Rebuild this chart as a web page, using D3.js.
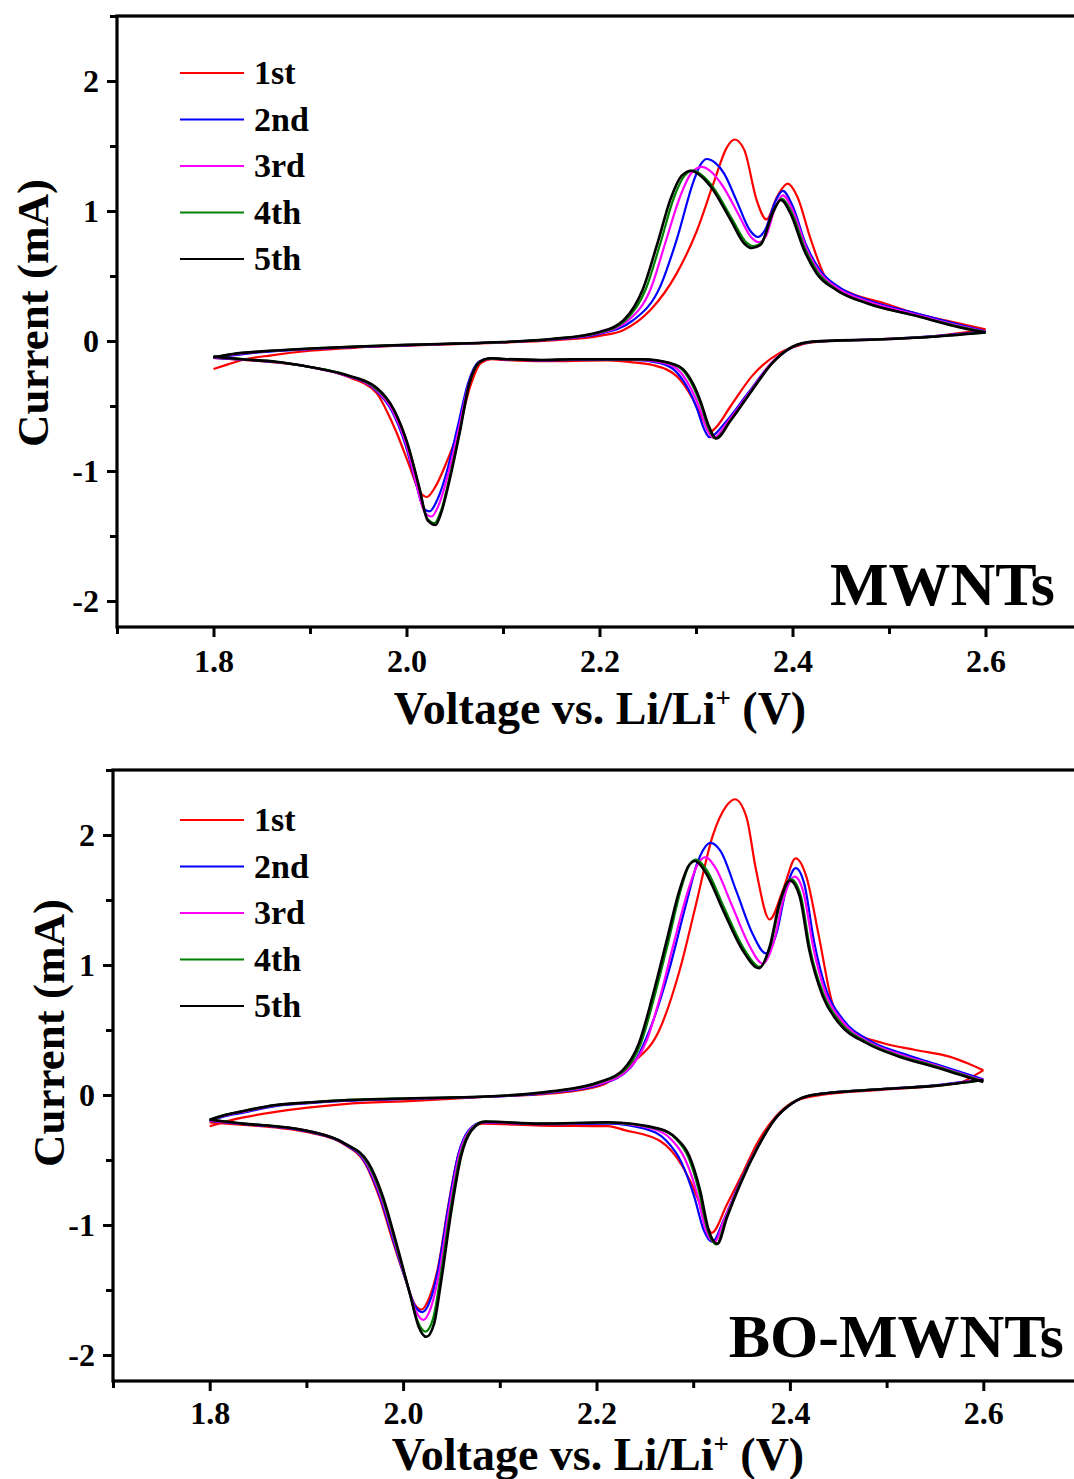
<!DOCTYPE html>
<html>
<head>
<meta charset="utf-8">
<script src="https://cdn.jsdelivr.net/npm/d3@7"></script>
<style>
  body { margin: 0; background: #fff; }
  text { font-family: "Liberation Serif", "Times New Roman", serif; font-weight: bold; fill: #000; }
</style>
</head>
<body>
<div id="chart"></div>
<script>
// ---- shared labels / ticks ----
const cycles = ['1st', '2nd', '3rd', '4th', '5th'];
const colors = ['#ff0000', '#0000ff', '#ff00ff', '#008000', '#000000'];
const xTicks = [1.8, 2.0, 2.2, 2.4, 2.6];
const xMinor = [1.7, 1.9, 2.1, 2.3, 2.5, 2.7];
const yTicks = [-2, -1, 0, 1, 2];
const yMinor = [-1.5, -0.5, 0.5, 1.5, 2.5];

// ---- MWNTs, anodic sweep (voltage up) [V, mA] ----
const mwAn1 = [[1.80,-0.215],[1.815,-0.18],[1.83,-0.146],[1.86,-0.11],[1.90,-0.075],[1.95,-0.05],[2.00,-0.035],[2.05,-0.024],[2.10,-0.012],[2.15,0.005],[2.20,0.04],[2.225,0.085],[2.253,0.24],[2.280,0.52],[2.301,0.85],[2.318,1.21],[2.332,1.49],[2.340,1.55],[2.350,1.47],[2.363,1.08],[2.373,0.935],[2.384,1.11],[2.395,1.21],[2.405,1.11],[2.419,0.78],[2.436,0.47],[2.460,0.37],[2.495,0.29],[2.529,0.21],[2.564,0.15],[2.60,0.09]];
const mwAn2 = [[1.80,-0.13],[1.82,-0.11],[1.85,-0.085],[1.90,-0.062],[1.95,-0.046],[2.00,-0.033],[2.05,-0.021],[2.10,-0.009],[2.15,0.01],[2.20,0.055],[2.235,0.16],[2.263,0.42],[2.280,0.78],[2.298,1.24],[2.305,1.36],[2.311,1.40],[2.320,1.37],[2.329,1.29],[2.342,1.08],[2.356,0.85],[2.364,0.80],[2.372,0.86],[2.382,1.07],[2.390,1.155],[2.400,1.04],[2.414,0.74],[2.428,0.55],[2.449,0.41],[2.48,0.31],[2.53,0.21],[2.565,0.14],[2.60,0.075]];
const mwAn3 = [[1.80,-0.13],[1.82,-0.105],[1.85,-0.082],[1.90,-0.06],[1.95,-0.044],[2.00,-0.032],[2.05,-0.02],[2.10,-0.008],[2.15,0.012],[2.20,0.06],[2.23,0.16],[2.253,0.40],[2.268,0.75],[2.283,1.10],[2.295,1.29],[2.306,1.34],[2.316,1.30],[2.327,1.20],[2.345,0.96],[2.357,0.80],[2.365,0.76],[2.372,0.80],[2.382,1.02],[2.390,1.12],[2.400,1.01],[2.414,0.72],[2.427,0.54],[2.448,0.40],[2.48,0.30],[2.53,0.20],[2.565,0.13],[2.60,0.07]];
const mwAn4 = [[1.80,-0.125],[1.82,-0.10],[1.85,-0.08],[1.90,-0.058],[1.95,-0.042],[2.00,-0.03],[2.05,-0.02],[2.10,-0.008],[2.15,0.015],[2.20,0.065],[2.227,0.16],[2.248,0.40],[2.263,0.75],[2.277,1.10],[2.288,1.27],[2.297,1.31],[2.307,1.27],[2.318,1.18],[2.338,0.93],[2.352,0.76],[2.360,0.73],[2.368,0.76],[2.380,0.99],[2.389,1.095],[2.399,0.99],[2.413,0.71],[2.426,0.53],[2.447,0.39],[2.478,0.29],[2.53,0.19],[2.565,0.125],[2.60,0.068]];
const mwAn5 = [[1.80,-0.125],[1.82,-0.10],[1.85,-0.08],[1.90,-0.058],[1.95,-0.042],[2.00,-0.03],[2.05,-0.02],[2.10,-0.008],[2.15,0.015],[2.20,0.07],[2.225,0.16],[2.245,0.40],[2.26,0.75],[2.274,1.10],[2.285,1.27],[2.295,1.31],[2.305,1.27],[2.315,1.19],[2.336,0.93],[2.350,0.75],[2.358,0.715],[2.367,0.74],[2.379,0.98],[2.388,1.085],[2.398,0.98],[2.412,0.70],[2.425,0.52],[2.446,0.39],[2.477,0.29],[2.53,0.19],[2.565,0.12],[2.60,0.065]];

// ---- MWNTs, cathodic sweep (stored by rising voltage) ----
const mwCa1 = [[1.80,-0.13],[1.83,-0.145],[1.865,-0.165],[1.90,-0.20],[1.937,-0.27],[1.969,-0.40],[1.979,-0.53],[1.990,-0.71],[2.003,-0.96],[2.013,-1.15],[2.021,-1.20],[2.030,-1.12],[2.040,-0.96],[2.055,-0.66],[2.066,-0.35],[2.077,-0.17],[2.088,-0.14],[2.10,-0.145],[2.14,-0.155],[2.209,-0.15],[2.235,-0.165],[2.255,-0.185],[2.280,-0.27],[2.297,-0.45],[2.308,-0.62],[2.314,-0.70],[2.320,-0.67],[2.336,-0.50],[2.358,-0.27],[2.386,-0.095],[2.40,-0.05],[2.42,-0.01],[2.49,0.015],[2.55,0.04],[2.60,0.09]];
const mwCa2 = [[1.80,-0.13],[1.83,-0.143],[1.865,-0.163],[1.90,-0.20],[1.937,-0.265],[1.967,-0.37],[1.985,-0.54],[1.999,-0.80],[2.010,-1.10],[2.018,-1.29],[2.024,-1.31],[2.032,-1.22],[2.042,-1.00],[2.053,-0.66],[2.064,-0.32],[2.075,-0.16],[2.086,-0.135],[2.10,-0.14],[2.14,-0.15],[2.174,-0.145],[2.235,-0.145],[2.263,-0.17],[2.280,-0.24],[2.292,-0.37],[2.301,-0.52],[2.308,-0.67],[2.314,-0.74],[2.330,-0.63],[2.354,-0.40],[2.377,-0.18],[2.40,-0.048],[2.421,-0.006],[2.492,0.014],[2.55,0.04],[2.60,0.075]];
const mwCa3 = [[1.80,-0.125],[1.83,-0.142],[1.865,-0.162],[1.90,-0.20],[1.937,-0.265],[1.968,-0.37],[1.986,-0.54],[2.000,-0.80],[2.011,-1.12],[2.019,-1.32],[2.026,-1.35],[2.034,-1.25],[2.043,-1.03],[2.054,-0.68],[2.065,-0.32],[2.076,-0.16],[2.087,-0.135],[2.10,-0.14],[2.14,-0.148],[2.174,-0.142],[2.24,-0.143],[2.268,-0.17],[2.284,-0.24],[2.295,-0.37],[2.304,-0.52],[2.312,-0.69],[2.318,-0.745],[2.333,-0.62],[2.356,-0.39],[2.378,-0.17],[2.40,-0.045],[2.421,-0.005],[2.492,0.013],[2.55,0.036],[2.60,0.07]];
const mwCa4 = [[1.80,-0.12],[1.83,-0.14],[1.865,-0.16],[1.90,-0.20],[1.937,-0.26],[1.969,-0.37],[1.987,-0.53],[2.001,-0.79],[2.013,-1.12],[2.021,-1.36],[2.029,-1.40],[2.036,-1.30],[2.044,-1.07],[2.055,-0.70],[2.065,-0.33],[2.076,-0.16],[2.087,-0.133],[2.10,-0.138],[2.14,-0.146],[2.174,-0.14],[2.245,-0.142],[2.272,-0.17],[2.287,-0.23],[2.297,-0.35],[2.305,-0.49],[2.313,-0.67],[2.320,-0.75],[2.335,-0.62],[2.357,-0.39],[2.379,-0.17],[2.40,-0.045],[2.421,-0.005],[2.492,0.013],[2.55,0.035],[2.60,0.068]];
const mwCa5 = [[1.80,-0.12],[1.83,-0.14],[1.865,-0.16],[1.90,-0.20],[1.937,-0.26],[1.969,-0.36],[1.987,-0.53],[2.001,-0.79],[2.013,-1.12],[2.022,-1.38],[2.030,-1.415],[2.036,-1.32],[2.044,-1.09],[2.055,-0.71],[2.065,-0.33],[2.076,-0.16],[2.087,-0.133],[2.10,-0.138],[2.14,-0.146],[2.174,-0.14],[2.245,-0.14],[2.273,-0.17],[2.287,-0.22],[2.297,-0.33],[2.305,-0.47],[2.313,-0.65],[2.321,-0.75],[2.336,-0.61],[2.358,-0.38],[2.379,-0.17],[2.400,-0.044],[2.421,-0.005],[2.492,0.013],[2.55,0.035],[2.60,0.065]];

// ---- BO-MWNTs, anodic sweep ----
const boAn1 = [[1.80,-0.24],[1.83,-0.18],[1.868,-0.13],[1.939,-0.07],[2.011,-0.045],[2.082,-0.015],[2.151,0.01],[2.203,0.07],[2.237,0.245],[2.265,0.50],[2.286,0.96],[2.303,1.47],[2.320,1.99],[2.334,2.22],[2.343,2.275],[2.355,2.14],[2.365,1.73],[2.379,1.35],[2.393,1.58],[2.406,1.82],[2.417,1.68],[2.430,1.22],[2.444,0.705],[2.462,0.50],[2.496,0.40],[2.530,0.346],[2.565,0.295],[2.585,0.24],[2.60,0.19]];
const boAn2 = [[1.80,-0.20],[1.815,-0.165],[1.832,-0.14],[1.868,-0.085],[1.90,-0.064],[1.939,-0.045],[2.011,-0.029],[2.082,-0.015],[2.151,0.016],[2.203,0.08],[2.235,0.21],[2.255,0.50],[2.275,0.96],[2.292,1.45],[2.305,1.80],[2.318,1.94],[2.328,1.88],[2.345,1.56],[2.362,1.23],[2.375,1.09],[2.386,1.24],[2.396,1.58],[2.406,1.745],[2.415,1.62],[2.425,1.18],[2.438,0.80],[2.455,0.58],[2.482,0.42],[2.516,0.32],[2.55,0.24],[2.60,0.12]];
const boAn3 = [[1.80,-0.195],[1.815,-0.16],[1.832,-0.133],[1.868,-0.08],[1.90,-0.06],[1.939,-0.042],[2.011,-0.027],[2.082,-0.014],[2.151,0.02],[2.203,0.085],[2.232,0.19],[2.252,0.42],[2.266,0.76],[2.28,1.17],[2.295,1.58],[2.305,1.78],[2.313,1.83],[2.322,1.76],[2.340,1.46],[2.358,1.15],[2.372,1.01],[2.383,1.17],[2.393,1.50],[2.405,1.68],[2.414,1.56],[2.424,1.14],[2.437,0.78],[2.454,0.57],[2.481,0.41],[2.515,0.31],[2.55,0.23],[2.60,0.11]];
const boAn4 = [[1.80,-0.19],[1.815,-0.155],[1.832,-0.128],[1.868,-0.078],[1.90,-0.058],[1.939,-0.04],[2.011,-0.025],[2.082,-0.013],[2.151,0.024],[2.203,0.095],[2.229,0.19],[2.246,0.40],[2.260,0.76],[2.274,1.17],[2.288,1.60],[2.296,1.77],[2.303,1.81],[2.314,1.73],[2.332,1.44],[2.352,1.13],[2.369,0.985],[2.380,1.15],[2.390,1.48],[2.401,1.66],[2.411,1.54],[2.421,1.12],[2.435,0.77],[2.452,0.56],[2.48,0.405],[2.514,0.30],[2.549,0.225],[2.60,0.105]];
const boAn5 = [[1.80,-0.19],[1.815,-0.155],[1.832,-0.128],[1.868,-0.077],[1.90,-0.058],[1.939,-0.04],[2.011,-0.025],[2.082,-0.013],[2.151,0.026],[2.203,0.10],[2.227,0.19],[2.244,0.40],[2.258,0.76],[2.272,1.17],[2.286,1.58],[2.295,1.76],[2.302,1.80],[2.313,1.71],[2.331,1.42],[2.351,1.115],[2.368,0.975],[2.379,1.14],[2.389,1.47],[2.400,1.65],[2.410,1.53],[2.420,1.115],[2.434,0.76],[2.451,0.55],[2.479,0.40],[2.513,0.295],[2.548,0.22],[2.60,0.10]];

// ---- BO-MWNTs, cathodic sweep (stored by rising voltage) ----
const boCa1 = [[1.80,-0.21],[1.835,-0.23],[1.868,-0.25],[1.904,-0.29],[1.939,-0.38],[1.961,-0.53],[1.976,-0.80],[1.990,-1.14],[2.003,-1.43],[2.012,-1.61],[2.019,-1.65],[2.027,-1.56],[2.036,-1.33],[2.047,-0.84],[2.057,-0.46],[2.068,-0.28],[2.082,-0.22],[2.142,-0.235],[2.212,-0.24],[2.229,-0.27],[2.265,-0.35],[2.289,-0.55],[2.305,-0.80],[2.314,-1.0],[2.319,-1.06],[2.335,-0.84],[2.350,-0.62],[2.367,-0.36],[2.385,-0.17],[2.402,-0.06],[2.423,-0.01],[2.494,0.04],[2.55,0.07],[2.578,0.10],[2.592,0.155],[2.60,0.19]];
const boCa2 = [[1.80,-0.20],[1.835,-0.225],[1.868,-0.245],[1.904,-0.285],[1.939,-0.375],[1.961,-0.52],[1.976,-0.78],[1.990,-1.12],[2.003,-1.43],[2.012,-1.62],[2.020,-1.67],[2.028,-1.58],[2.036,-1.35],[2.047,-0.85],[2.057,-0.46],[2.068,-0.27],[2.082,-0.21],[2.142,-0.225],[2.212,-0.22],[2.250,-0.26],[2.272,-0.35],[2.288,-0.52],[2.301,-0.78],[2.311,-1.04],[2.320,-1.13],[2.331,-0.97],[2.346,-0.71],[2.365,-0.42],[2.383,-0.20],[2.402,-0.067],[2.423,0.0],[2.494,0.046],[2.55,0.075],[2.60,0.12]];
const boCa3 = [[1.80,-0.195],[1.835,-0.222],[1.868,-0.242],[1.904,-0.28],[1.939,-0.37],[1.962,-0.52],[1.977,-0.78],[1.991,-1.12],[2.004,-1.45],[2.013,-1.66],[2.021,-1.73],[2.029,-1.63],[2.037,-1.38],[2.048,-0.86],[2.058,-0.46],[2.069,-0.27],[2.083,-0.21],[2.142,-0.222],[2.212,-0.215],[2.258,-0.26],[2.277,-0.34],[2.292,-0.50],[2.304,-0.76],[2.313,-1.04],[2.322,-1.13],[2.332,-0.96],[2.347,-0.70],[2.366,-0.41],[2.383,-0.20],[2.402,-0.066],[2.423,0.0],[2.494,0.045],[2.55,0.073],[2.60,0.12]];
const boCa4 = [[1.80,-0.19],[1.835,-0.22],[1.868,-0.24],[1.904,-0.28],[1.939,-0.37],[1.963,-0.52],[1.978,-0.78],[1.992,-1.13],[2.006,-1.50],[2.015,-1.74],[2.023,-1.82],[2.031,-1.72],[2.038,-1.43],[2.049,-0.88],[2.059,-0.47],[2.070,-0.27],[2.084,-0.205],[2.142,-0.22],[2.212,-0.212],[2.263,-0.26],[2.281,-0.33],[2.295,-0.48],[2.306,-0.74],[2.315,-1.04],[2.324,-1.15],[2.334,-0.95],[2.348,-0.69],[2.366,-0.41],[2.383,-0.20],[2.402,-0.065],[2.423,0.0],[2.494,0.045],[2.55,0.072],[2.60,0.115]];
const boCa5 = [[1.80,-0.19],[1.835,-0.22],[1.868,-0.24],[1.904,-0.28],[1.939,-0.37],[1.964,-0.52],[1.979,-0.78],[1.993,-1.14],[2.007,-1.53],[2.016,-1.78],[2.024,-1.86],[2.032,-1.76],[2.039,-1.45],[2.050,-0.885],[2.060,-0.47],[2.071,-0.27],[2.085,-0.205],[2.142,-0.22],[2.212,-0.21],[2.265,-0.26],[2.282,-0.33],[2.296,-0.47],[2.307,-0.73],[2.316,-1.04],[2.325,-1.145],[2.335,-0.94],[2.349,-0.68],[2.367,-0.40],[2.384,-0.19],[2.402,-0.064],[2.423,0.0],[2.494,0.044],[2.55,0.07],[2.60,0.115]];

const W = 1074, H = 1479;
const svg = d3.select('#chart').append('svg')
  .attr('width', W)
  .attr('height', H);

function drawPanel(p) {
  const x = d3.scaleLinear().domain([1.7, 2.7]).range([p.left, p.left + p.pxPerV]);
  const y = d3.scaleLinear().domain([-2.2, 2.5]).range([p.zeroY + 2.2 * p.pxPerA, p.zeroY - 2.5 * p.pxPerA]);
  const g = svg.append('g');
  const bottom = y(-2.2), top = y(2.5);

  // curves, 1st cycle first so 5th sits on top
  const line = d3.line()
    .curve(d3.curveMonotoneX)
    .x(d => x(d[0]))
    .y(d => y(d[1]));
  p.anodic.forEach((an, i) => {
    [an, p.cathodic[i]].forEach(branch => {
      g.append('path')
        .datum(branch)
        .attr('fill', 'none')
        .attr('stroke', colors[i])
        .attr('stroke-width', i === 4 ? 2.6 : 2.2)
        .attr('stroke-linejoin', 'round')
        .attr('d', line);
    });
  });

  // frame
  g.append('rect')
    .attr('x', x(1.7)).attr('y', top)
    .attr('width', x(2.7) - x(1.7)).attr('height', bottom - top)
    .attr('fill', 'none').attr('stroke', '#000').attr('stroke-width', 3.2);

  // x axis
  const xa = g.append('g').attr('transform', 'translate(0,' + bottom + ')')
    .call(d3.axisBottom(x).tickValues(xTicks).tickSize(10).tickPadding(p.xPad).tickFormat(d => d.toFixed(1)));
  const xm = g.append('g').attr('transform', 'translate(0,' + bottom + ')')
    .call(d3.axisBottom(x).tickValues(xMinor).tickSize(7).tickFormat(''));
  // y axis
  const ya = g.append('g').attr('transform', 'translate(' + x(1.7) + ',0)')
    .call(d3.axisLeft(y).tickValues(yTicks).tickSize(10).tickPadding(8).tickFormat(d => String(d)));
  const ym = g.append('g').attr('transform', 'translate(' + x(1.7) + ',0)')
    .call(d3.axisLeft(y).tickValues(yMinor).tickSize(7).tickFormat(''));
  [xa, xm, ya, ym].forEach(a => {
    a.select('.domain').remove();
    a.selectAll('line').attr('stroke', '#000').attr('stroke-width', 3);
    a.selectAll('text').attr('font-size', 32).attr('font-family', null).attr('fill', '#000');
  });

  // legend
  cycles.forEach((c, i) => {
    const ly = p.legendY + i * 46.5;
    g.append('line')
      .attr('x1', 180).attr('x2', 244).attr('y1', ly).attr('y2', ly)
      .attr('stroke', colors[i]).attr('stroke-width', 2.2);
    g.append('text')
      .attr('x', 254).attr('y', ly + 11)
      .attr('font-size', 34)
      .text(c);
  });

  // axis titles
  const xt = g.append('text')
    .attr('x', p.xTitleX).attr('y', p.xTitleY)
    .attr('text-anchor', 'middle')
    .attr('font-size', 46);
  xt.append('tspan').text('Voltage vs. Li/Li');
  xt.append('tspan').attr('dy', -17).attr('font-size', 27).text('+');
  xt.append('tspan').attr('dy', 17).text(' (V)');

  g.append('text')
    .attr('transform', 'translate(' + p.yTitleX + ',' + p.yTitleY + ') rotate(-90)')
    .attr('text-anchor', 'middle')
    .attr('font-size', 45)
    .text('Current (mA)');

  // sample name
  g.append('text')
    .attr('x', p.nameX).attr('y', p.nameY)
    .attr('text-anchor', 'end')
    .attr('font-size', 62)
    .text(p.name);
}

drawPanel({
  name: 'MWNTs', left: 117, pxPerV: 965, zeroY: 341, pxPerA: 130,
  anodic: [mwAn1, mwAn2, mwAn3, mwAn4, mwAn5],
  cathodic: [mwCa1, mwCa2, mwCa3, mwCa4, mwCa5],
  legendY: 73, xPad: 12, xTitleX: 600, xTitleY: 724, yTitleX: 48, yTitleY: 313,
  nameX: 1055, nameY: 605
});
drawPanel({
  name: 'BO-MWNTs', left: 113, pxPerV: 967, zeroY: 1095, pxPerA: 130,
  anodic: [boAn1, boAn2, boAn3, boAn4, boAn5],
  cathodic: [boCa1, boCa2, boCa3, boCa4, boCa5],
  legendY: 820, xPad: 10, xTitleX: 598, xTitleY: 1470, yTitleX: 64, yTitleY: 1033,
  nameX: 1064, nameY: 1357
});
</script>
</body>
</html>
